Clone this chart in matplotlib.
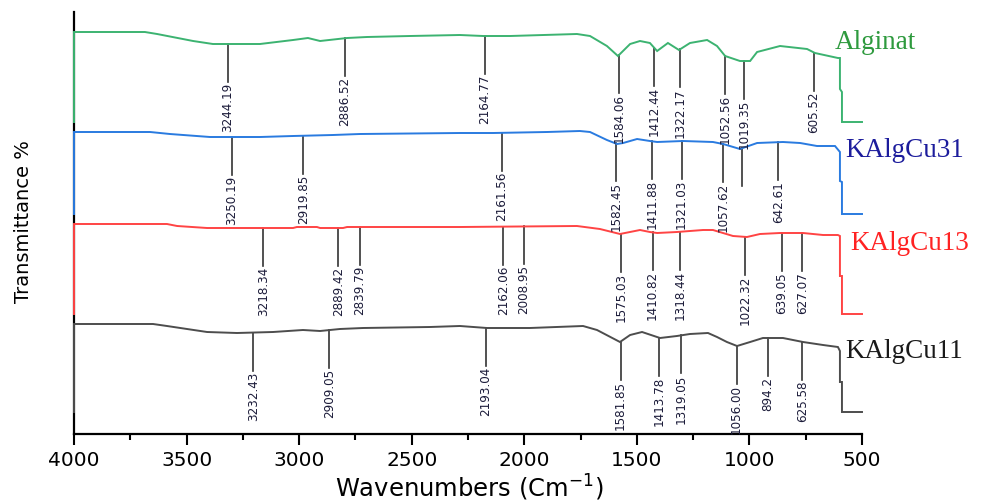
import numpy as np
import matplotlib
matplotlib.use("Agg")
import matplotlib.pyplot as plt
from matplotlib.ticker import MultipleLocator
from matplotlib import font_manager as fm

# ---------------- data ----------------
# wavenumber (cm-1) and transmittance (arbitrary offset units)
alg_wn = [4000, 4000, 3685, 3631, 3471, 3383, 3174, 3027, 2961, 2907, 2787, 2699, 2508,
          2286, 2183, 2063, 1766, 1708, 1633, 1584, 1530, 1486, 1442, 1410, 1362, 1313,
          1264, 1188, 1144, 1108, 1042, 997, 966, 864, 744, 709, 607, 598, 598, 589, 589, 500]
alg_t = [312, 402, 402, 400, 393, 390, 390, 394, 396, 393, 396, 397, 398,
         399, 398, 398, 400, 398, 388, 378, 390, 393, 391, 383, 391, 384,
         391, 394, 388, 378, 373, 373, 382, 388, 385, 381, 376, 376, 345, 342, 312, 312]

c31_wn = [4000, 4000, 3662, 3574, 3396, 3174, 3027, 2850, 2730, 2286, 2139, 1899, 1753,
          1708, 1633, 1588, 1561, 1499, 1442, 1410, 1295, 1162, 1117, 1042, 966, 851,
          775, 700, 620, 598, 598, 589, 589, 500]
c31_t = [220, 302, 302, 300, 297, 297, 298, 299, 300, 301, 301, 302, 303,
         302, 294, 290, 291, 295, 293, 292, 293, 292, 290, 285, 291, 292,
         291, 288, 288, 282, 253, 252, 220, 220]

c13_wn = [4000, 4000, 3587, 3542, 3409, 3027, 3010, 2921, 2907, 2805, 2787, 2286, 1766,
          1664, 1575, 1486, 1442, 1410, 1322, 1206, 1162, 1073, 1011, 953, 864, 762,
          673, 607, 598, 598, 589, 589, 500]
c13_t = [120, 210, 210, 208, 206, 206, 207, 207, 206, 206, 207, 207, 208,
         205, 200, 204, 202, 201, 202, 204, 204, 198, 197, 200, 201, 201,
         199, 199, 198, 158, 158, 120, 120]

c11_wn = [4000, 4000, 3649, 3587, 3409, 3276, 3116, 2983, 2907, 2819, 2716, 2419, 2286,
          2166, 1975, 1739, 1677, 1575, 1530, 1477, 1397, 1322, 1264, 1184, 1144, 1100,
          1055, 997, 940, 851, 762, 673, 607, 598, 598, 589, 589, 500]
c11_t = [22, 110, 110, 108, 102, 101, 102, 104, 103, 105, 106, 107, 108,
         106, 106, 108, 104, 92, 99, 102, 96, 98, 100, 101, 97, 92,
         88, 92, 96, 96, 92, 89, 87, 83, 52, 52, 22, 22]

# peak marks: position as drawn in the picture, and the printed label
alg_peak_pos = [3316, 2796, 2175, 1579, 1423, 1308, 1108, 1023, 713]
alg_peak_lab = ["3244.19", "2886.52", "2164.77", "1584.06", "1412.44", "1322.17",
                "1052.56", "1019.35", "605.52"]
c31_peak_pos = [3300, 2982, 2100, 1594, 1431, 1301, 1116, 1034, 872]
c31_peak_lab = ["3250.19", "2919.85", "2161.56", "1582.45", "1411.88", "1321.03",
                "1057.62", "", "642.61"]
c13_peak_pos = [3159, 2826, 2730, 2093, 2001, 1571, 1430, 1308, 1020, 857, 765]
c13_peak_lab = ["3218.34", "2889.42", "2839.79", "2162.06", "2008.95", "1575.03",
                "1410.82", "1318.44", "1022.32", "639.05", "627.07"]
c11_peak_pos = [3204, 2866, 2170, 1572, 1400, 1305, 1057, 917, 765]
c11_peak_lab = ["3232.43", "2909.05", "2193.04", "1581.85", "1413.78", "1319.05",
                "1056.00", "894.2", "625.58"]

names = ["Alginat", "KAlgCu31", "KAlgCu13", "KAlgCu11"]
xticks = [4000, 3500, 3000, 2500, 2000, 1500, 1000, 500]

# ---------------- choose a narrow font for the peak labels ----------------
narrow_prop = None
for f in fm.fontManager.ttflist:
    nm_l = f.name.lower()
    if ("narrow" in nm_l or "condensed" in nm_l or
            str(f.stretch) in ("condensed", "semi-condensed", "extra-condensed")) \
            and f.style == "normal" and f.weight in (400, "normal", "regular"):
        if "cjk" in nm_l or "mono" in nm_l or "serif" in nm_l:
            continue
        narrow_prop = fm.FontProperties(fname=f.fname, size=9.5)
        break
if narrow_prop is None:
    narrow_prop = fm.FontProperties(family="Liberation Sans", size=8)

# ---------------- styling ----------------
W, H = 1008, 502
fig = plt.figure(figsize=(W / 100, H / 100), dpi=100)
ax = fig.add_axes([74 / W, (H - 435) / H, 788 / W, 422 / H])

series = [
    (alg_wn, alg_t, alg_peak_pos, alg_peak_lab, "#3cb371", "#2e9a3e", 49),
    (c31_wn, c31_t, c31_peak_pos, c31_peak_lab, "#2a7be0", "#1c1c9c", 157),
    (c13_wn, c13_t, c13_peak_pos, c13_peak_lab, "#ff4444", "#ff2222", 250),
    (c11_wn, c11_t, c11_peak_pos, c11_peak_lab, "#4d4d4d", "#1a1a1a", 358),
]
label_x = [835, 845, 850, 845]

L = 38  # length of peak marker lines (data units ~ pixels)

for (wn, t, ppos, plab, col, tcol, base), nm, lx in zip(series, names, label_x):
    ax.plot(wn, t, color=col, lw=1.4, solid_joinstyle="miter", zorder=3, clip_on=False)
    xs = np.array(wn[::-1], dtype=float)
    ys = np.array(t[::-1], dtype=float)
    for p, lab in zip(ppos, plab):
        yc = np.interp(p, xs[3:-2], ys[3:-2])
        ax.plot([p, p], [yc, yc - L], color="#333333", lw=1.2, zorder=2)
        if lab:
            ax.text(p, yc - L, lab, rotation=90, ha="center", va="top",
                    fontproperties=narrow_prop, color="#1c1c3a", zorder=4)
    fig.text(lx / W, 1 - base / H, nm, family=["Liberation Serif", "DejaVu Serif"],
             fontsize=19.5, color=tcol, ha="left", va="baseline")

ax.set_xlim(4000, 500)
ax.set_ylim(0, 422)
ax.set_xticks(xticks)
ax.xaxis.set_minor_locator(MultipleLocator(250))
ax.set_yticks([])
for s in ["top", "right"]:
    ax.spines[s].set_visible(False)
for s in ["left", "bottom"]:
    ax.spines[s].set_linewidth(1.6)
    ax.spines[s].set_color("black")
ax.tick_params(axis="x", which="major", direction="out", length=8, width=1.5,
               labelsize=14.5, pad=3.5)
ax.tick_params(axis="x", which="minor", direction="out", length=4.5, width=1.5)
for lbl in ax.get_xticklabels():
    lbl.set_family("DejaVu Sans")

fig.text(24 / W, 1 - 222 / H, "Transmittance %", rotation=90, ha="center", va="center",
         fontsize=14, family="DejaVu Sans")
fig.text(469 / W, 5 / H, "Wavenumbers (Cm$^{-1}$)", ha="center", va="baseline",
         fontsize=17.5, family="DejaVu Sans")

fig.savefig("out.png", dpi=100)
